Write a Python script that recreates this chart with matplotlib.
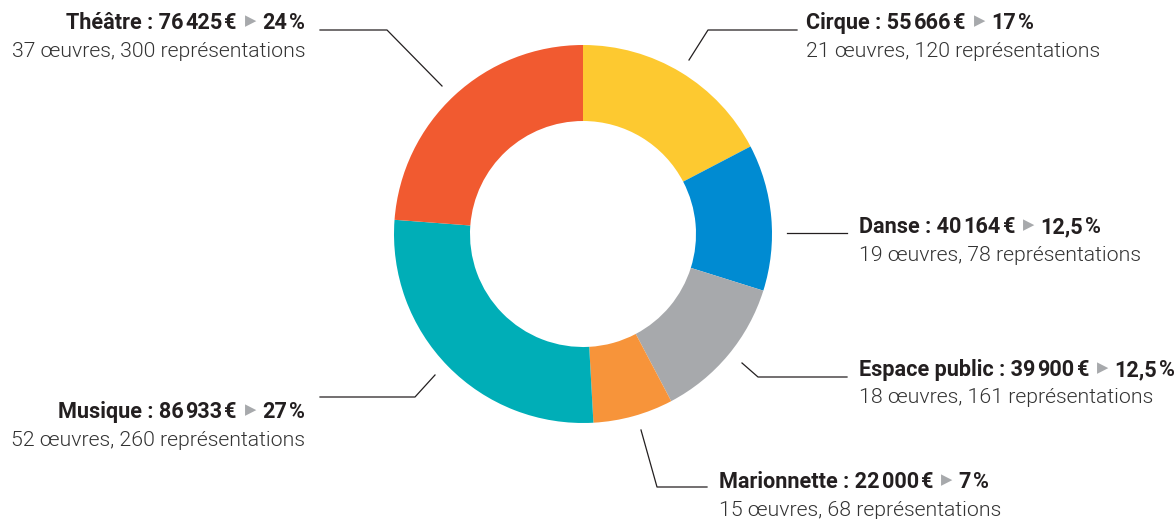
import matplotlib
matplotlib.use("Agg")
import matplotlib.pyplot as plt

# Données
categories = ["Cirque", "Danse", "Espace public", "Marionnette", "Musique", "Théâtre"]
montants = [55666, 40164, 39900, 22000, 86933, 76425]
pourcents = ["17", "12,5", "12,5", "7", "27", "24"]
oeuvres = [21, 19, 18, 15, 52, 37]
representations = [120, 78, 161, 68, 260, 300]
couleurs = ["#FDC930", "#008BD2", "#A7A9AC", "#F7943A", "#00AEB7", "#F15A30"]

W, H = 1174, 519
fig = plt.figure(figsize=(W / 100, H / 100), dpi=100)
ax = fig.add_axes([0, 0, 1, 1])

# Donut
ax.pie(montants, colors=couleurs, startangle=90, counterclock=False,
       center=(583, H - 234), radius=189,
       wedgeprops=dict(width=76, linewidth=0))
ax.set_xlim(0, W)
ax.set_ylim(0, H)
ax.set_aspect("equal")
ax.axis("off")

# lignes de rappel (pixels, y vers le bas)
leaders = {
    "Cirque": [(689, 60), (708, 30), (797, 30)],
    "Danse": [(787, 233), (847, 233)],
    "Espace public": [(742, 363), (758, 377), (847, 377)],
    "Marionnette": [(641, 430), (657, 487), (707, 487)],
    "Musique": [(435, 375), (415, 397), (320, 397)],
    "Théâtre": [(442, 86), (387, 30), (320, 30)],
}
# x, ligne de base 1, ligne de base 2, alignement
labels_pos = {
    "Cirque": (806, 29, 57, "left"),
    "Danse": (859, 233, 261, "left"),
    "Espace public": (859, 376, 403, "left"),
    "Marionnette": (719, 488, 516, "left"),
    "Musique": (305, 418, 446, "right"),
    "Théâtre": (305, 29, 57, "right"),
}

for name, pts in leaders.items():
    ax.plot([p[0] for p in pts], [H - p[1] for p in pts], color="#231F20", lw=0.9)

fam = ["Roboto", "DejaVu Sans"]
dark = "#231F20"
grey = "#A7A9AC"
size_b = 15.6
size_l = 15.3
renderer = fig.canvas.get_renderer()


def draw_parts(parts, x, y, ha, size):
    # parts : (texte, couleur, graisse, facteur taille, écart après en px, décalage vertical en px)
    texts = []
    for s, c, wgt, f, gap, dy in parts:
        t = ax.text(0, H - y + dy, s, color=c, fontsize=size * f, family=fam,
                    fontweight=wgt, va="center" if dy else "baseline", ha="left")
        texts.append((t, gap))
    widths = [t.get_window_extent(renderer).width for t, _ in texts]
    total = sum(widths) + sum(g for _, g in texts[:-1])
    start = x if ha == "left" else x - total
    for (t, gap), w in zip(texts, widths):
        t.set_x(start)
        start += w + gap


def bold_parts(i):
    n = montants[i]
    mid = 0.711 * size_b * 100 / 72 / 2
    return [
        (f"{categories[i]} : {n // 1000}", dark, "bold", 1, 2, 0),
        (f"{n % 1000:03d}", dark, "bold", 1, 2, 0),
        ("€", dark, "bold", 1, 8, 0),
        ("\u25B6", grey, "normal", 0.68, 6, mid),
        (pourcents[i], dark, "bold", 1, 2, 0),
        ("%", dark, "bold", 1, 0, 0),
    ]


for i, name in enumerate(categories):
    x, y1, y2, ha = labels_pos[name]
    draw_parts(bold_parts(i), x, y1, ha, size_b)
    ax.text(x, H - y2, f"{oeuvres[i]} œuvres, {representations[i]} représentations",
            color="#333333", fontsize=size_l, family=fam, fontweight=300,
            va="baseline", ha=ha)

fig.savefig("out.png", dpi=100, facecolor="white")
